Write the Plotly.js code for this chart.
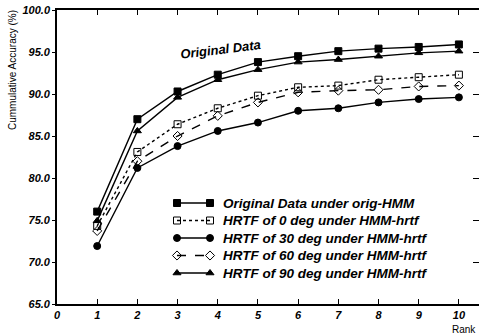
<!DOCTYPE html>
<html><head><meta charset="utf-8">
<script src="https://cdn.plot.ly/plotly-3.0.1.min.js"></script>
<style>html,body{margin:0;padding:0;background:#fff}#c{width:479px;height:336px}</style>
</head><body><div id="c"></div>
<script>
const ranks = [1,2,3,4,5,6,7,8,9,10];
const origHMM = [76.0,87.0,90.3,92.3,93.8,94.5,95.1,95.4,95.6,95.9];
const hrtf0 = [74.3,83.1,86.4,88.3,89.8,90.8,91.0,91.7,92.0,92.3];
const hrtf30 = [71.9,81.2,83.8,85.6,86.6,88.0,88.3,89.0,89.4,89.6];
const hrtf60 = [73.7,82.0,85.0,87.4,89.0,90.2,90.4,90.5,90.9,91.0];
const hrtf90 = [74.9,85.6,89.6,91.7,92.9,93.8,94.1,94.5,94.9,95.1];
const names = ["Original Data under orig-HMM","HRTF of 0 deg under HMM-hrtf","HRTF of 30 deg under HMM-hrtf","HRTF of 60 deg under HMM-hrtf","HRTF of 90 deg under HMM-hrtf"];
const xTicks = [0,1,2,3,4,5,6,7,8,9,10];
const yTicks = [65,70,75,80,85,90,95,100];

const F = "Liberation Sans, Arial, sans-serif";
const styles = [
  {sym:'square', dash:'solid'},
  {sym:'square-open', dash:'dot'},
  {sym:'circle', dash:'solid'},
  {sym:'diamond-open', dash:'dash'},
  {sym:'triangle-up', dash:'solid'}
];
const series = [origHMM, hrtf0, hrtf30, hrtf60, hrtf90];

// plot area in pixels (for the hand-built legend)
const L = 57, T = 10, W = 422, H = 294;
const px = x => (x - L) / W, py = y => (T + H - y) / H;

const data = [];
series.forEach((y, i) => {
  data.push({x:ranks, y:y, name:names[i], type:'scatter', mode:'lines+markers', showlegend:false,
    line:{color:'#000', width:1.4, dash:styles[i].dash},
    marker:{symbol:styles[i].sym, size:7, color:'#000', line:{color:'#000', width:1}}});
});
// legend samples: marker—line—marker
const annotations = [];
names.forEach((n, i) => {
  const ry = py(203 + 17.5 * i);
  data.push({x:[px(177), px(210)], y:[ry, ry], xaxis:'x2', yaxis:'y3', type:'scatter', mode:'lines+markers',
    showlegend:false, hoverinfo:'skip',
    line:{color:'#000', width:1.4, dash:styles[i].dash},
    marker:{symbol:styles[i].sym, size:7, color:'#000', line:{color:'#000', width:1}}});
  annotations.push({text:n, xref:'paper', yref:'paper', x:px(221), y:ry, xanchor:'left', yanchor:'middle',
    showarrow:false, font:{family:F, size:13.5, color:'#000', weight:'bold', style:'italic'}});
});
annotations.push(
  {text:'Original Data', xref:'paper', yref:'paper', x:px(220), y:py(49), xanchor:'center', yanchor:'middle',
    showarrow:false, textangle:-7, font:{family:F, size:13, color:'#000', weight:'bold', style:'italic'}},
  {text:'Cummulative Accuracy (%)', xref:'paper', yref:'paper', x:px(12), y:py(70), xanchor:'center', yanchor:'middle',
    showarrow:false, textangle:-90, font:{family:F, size:10, color:'#000'}},
  {text:'Rank', xref:'paper', yref:'paper', x:px(478), y:py(329), xanchor:'right', yanchor:'middle', showarrow:false,
    font:{family:F, size:10, color:'#000'}}
);
data.push({x:[1], y:[70], yaxis:'y2', type:'scatter', mode:'markers', marker:{opacity:0}, showlegend:false, hoverinfo:'skip'});

const layout = {
  width:479, height:336, margin:{l:L, r:0, t:T, b:32},
  paper_bgcolor:'#fff', plot_bgcolor:'#fff', showlegend:false,
  xaxis:{range:[0,10.5], tickvals:xTicks, ticktext:xTicks.map(String), ticks:'inside', ticklen:5,
    tickcolor:'#000', showline:true, linecolor:'#000', linewidth:2, mirror:'ticks', showgrid:false, zeroline:false,
    tickfont:{family:F, size:11, color:'#000', weight:'bold', style:'italic'}},
  yaxis:{range:[65,100], tickvals:yTicks, ticktext:yTicks.map(v=>v.toFixed(1)), ticks:'outside', ticklen:3,
    tickcolor:'#000', showline:true, linecolor:'#000', linewidth:1.8, mirror:true, showgrid:false, zeroline:false,
    tickfont:{family:F, size:11, color:'#000', weight:'bold', style:'italic'}},
  yaxis2:{range:[65,100], overlaying:'y', side:'right', tickvals:yTicks, ticks:'inside', ticklen:6, tickcolor:'#000',
    showticklabels:false, showgrid:false, zeroline:false, showline:false},
  xaxis2:{range:[0,1], overlaying:'x', visible:false},
  yaxis3:{range:[0,1], overlaying:'y', visible:false},
  annotations:annotations
};
Plotly.newPlot('c', data, layout, {staticPlot:true});
</script></body></html>
